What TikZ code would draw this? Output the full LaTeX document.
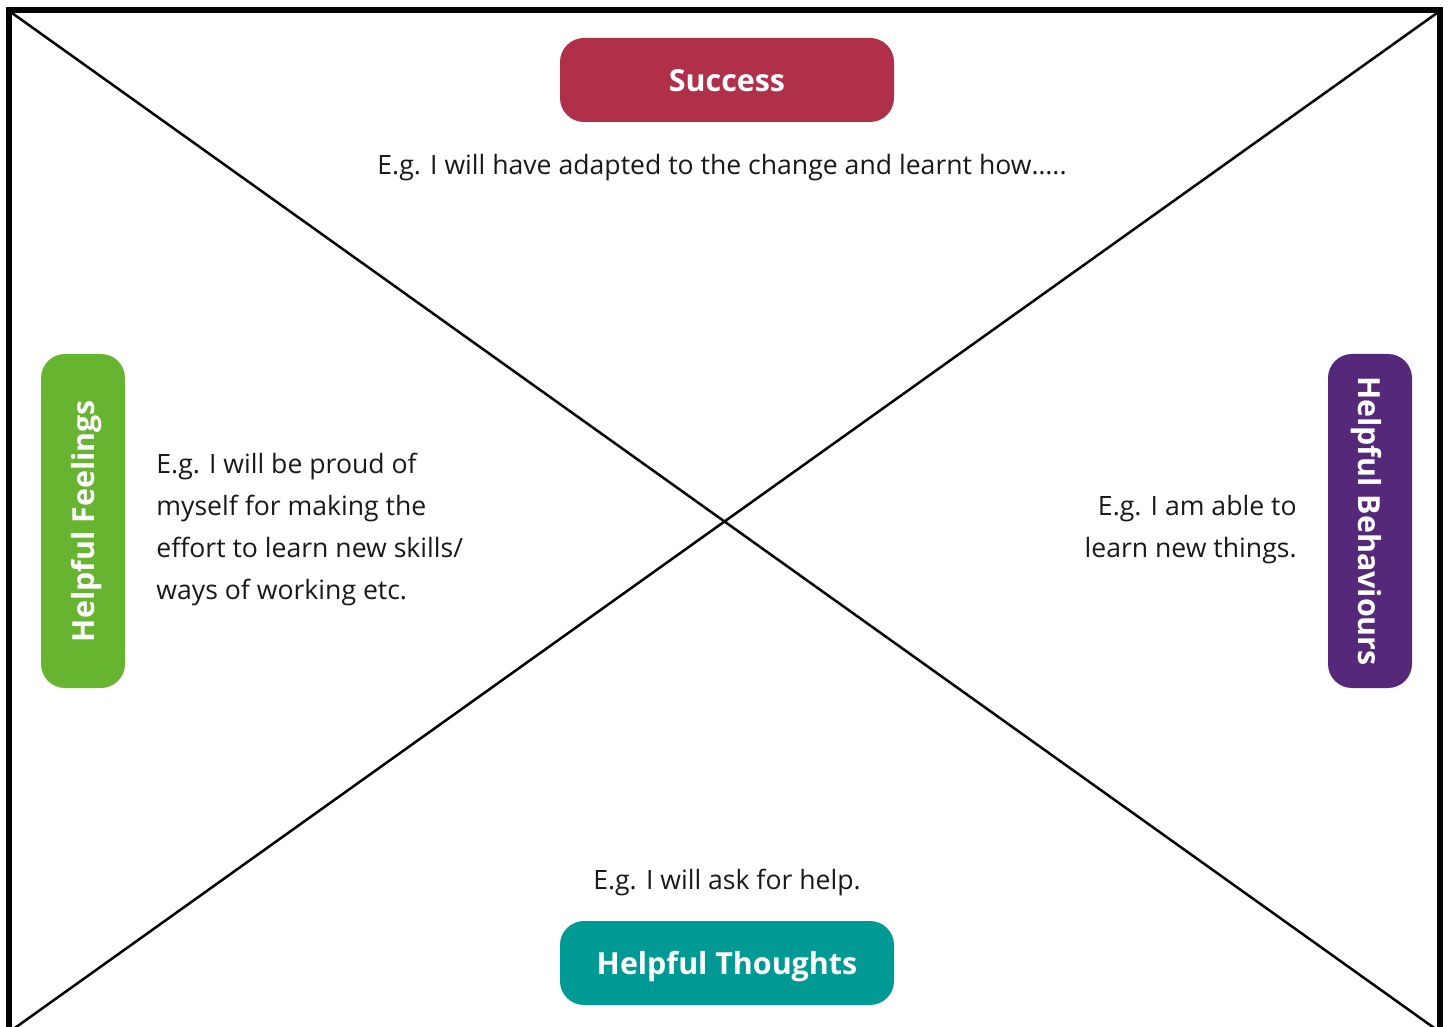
\documentclass[tikz,border=0pt]{standalone}
\usepackage{fontspec}
\setmainfont{Open Sans}
\usetikzlibrary{positioning}

\definecolor{successred}{HTML}{B03049}
\definecolor{thoughtteal}{HTML}{009A95}
\definecolor{feelgreen}{HTML}{67B431}
\definecolor{behavpurple}{HTML}{55287A}

\begin{document}
\begin{tikzpicture}[
    x=0.5pt, y=-0.5pt,
    label box/.style={rounded corners=12pt, text=white, inner sep=0pt,
        minimum width=167pt, minimum height=42pt, text depth=0pt,
        font=\fontsize{15.2}{17}\selectfont\bfseries},
    example/.style={text=black!90, inner sep=0pt,
        font=\fontsize{13.3}{21}\selectfont},
    cross/.style={line width=1.25pt}
]

% Marco de la hoja
\useasboundingbox (0,0) rectangle (1448,1027);
\draw[line width=3pt] (9,10) rectangle (1440,1034);

% Esquinas para las diagonales
\coordinate (tl) at (12,13);
\coordinate (tr) at (1437,13);
\coordinate (bl) at (12,1030);
\coordinate (br) at (1437,1030);

% Diagonales
\draw[cross] (tl) -- (br);
\draw[cross] (bl) -- (tr);

% Caja superior: exito
\node[label box, fill=successred] (success) at (727,80) {Success};
\node[example] (successtext) at (722,168)
{E.g. I will have adapted to the change and learnt how\dots..};

% Caja inferior: pensamientos
\node[label box, fill=thoughtteal] (thoughts) at (727,963) {Helpful Thoughts};
\node[example, above=12pt of thoughts] (thoughtstext)
{E.g. I will ask for help.};

% Caja izquierda: sentimientos
\node[label box, fill=feelgreen, rotate=90] (feelings) at (83,521) {Helpful Feelings};
\node[example, align=left, anchor=west] (feelingstext) at (156,530)
{E.g. I will be proud of\\ myself for making the\\ effort to learn new skills/\\ ways of working etc.};

% Caja derecha: conductas
\node[label box, fill=behavpurple, rotate=-90] (behaviours) at (1370,521) {Helpful Behaviours};
\node[example, align=right, anchor=east] (behaviourstext) at (1297,530)
{E.g. I am able to\\ learn new things.};

\end{tikzpicture}
\end{document}
